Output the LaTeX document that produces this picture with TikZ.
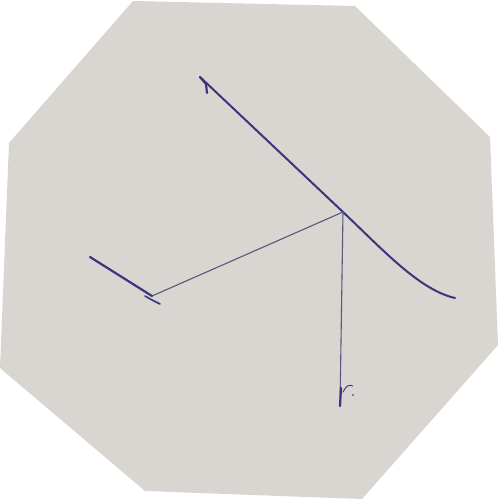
\documentclass[tikz,border=0pt]{standalone}
\begin{document}
\begin{tikzpicture}[x=1pt,y=-1pt,
  ink/.style={draw=inkc,line cap=round,line join=round},
  thick ink/.style={ink,line width=2.2pt},
  thin ink/.style={draw=inkc!55!gray,line width=1.1pt,line cap=round}]
\definecolor{paper}{HTML}{D9D5D1}
\definecolor{inkc}{HTML}{3B357F}
\useasboundingbox (0,0) rectangle (500,500);
\fill[white] (0,0) rectangle (500,500);
\fill[paper] (133,1) -- (355,6) -- (490,137) -- (498,345) -- (362,499) -- (145,491) -- (0,368) -- (9,143) -- cycle;
% points
\coordinate (top) at (200,77);
\coordinate (j) at (343,212);
\coordinate (rend) at (455,298);
\coordinate (bend) at (152,296);
\coordinate (lend) at (90,257);
\coordinate (bot) at (340,406);
% long line
\draw[thick ink,line width=2pt] (top) -- (j) .. controls (385,252) and (420,290) .. (rend);
\draw[thick ink] (top) -- (206,84) -- (207,93);
% middle link
\draw[thin ink] (j) -- (bend);
% short left stroke
\draw[thick ink] (lend) -- (bend);
\draw[ink,line width=1.6pt] (145,296) -- (152,300) -- (160,304);
% vertical line
\draw[thin ink] (j) -- (bot);
\draw[ink,line width=2.2pt] (341,388) -- (bot);
\draw[ink,line width=0.9pt] (343,392) .. controls (346,386) and (349,384) .. (353,386);
\fill[inkc!80] (353,395) circle (1.2pt);
\end{tikzpicture}
\end{document}
